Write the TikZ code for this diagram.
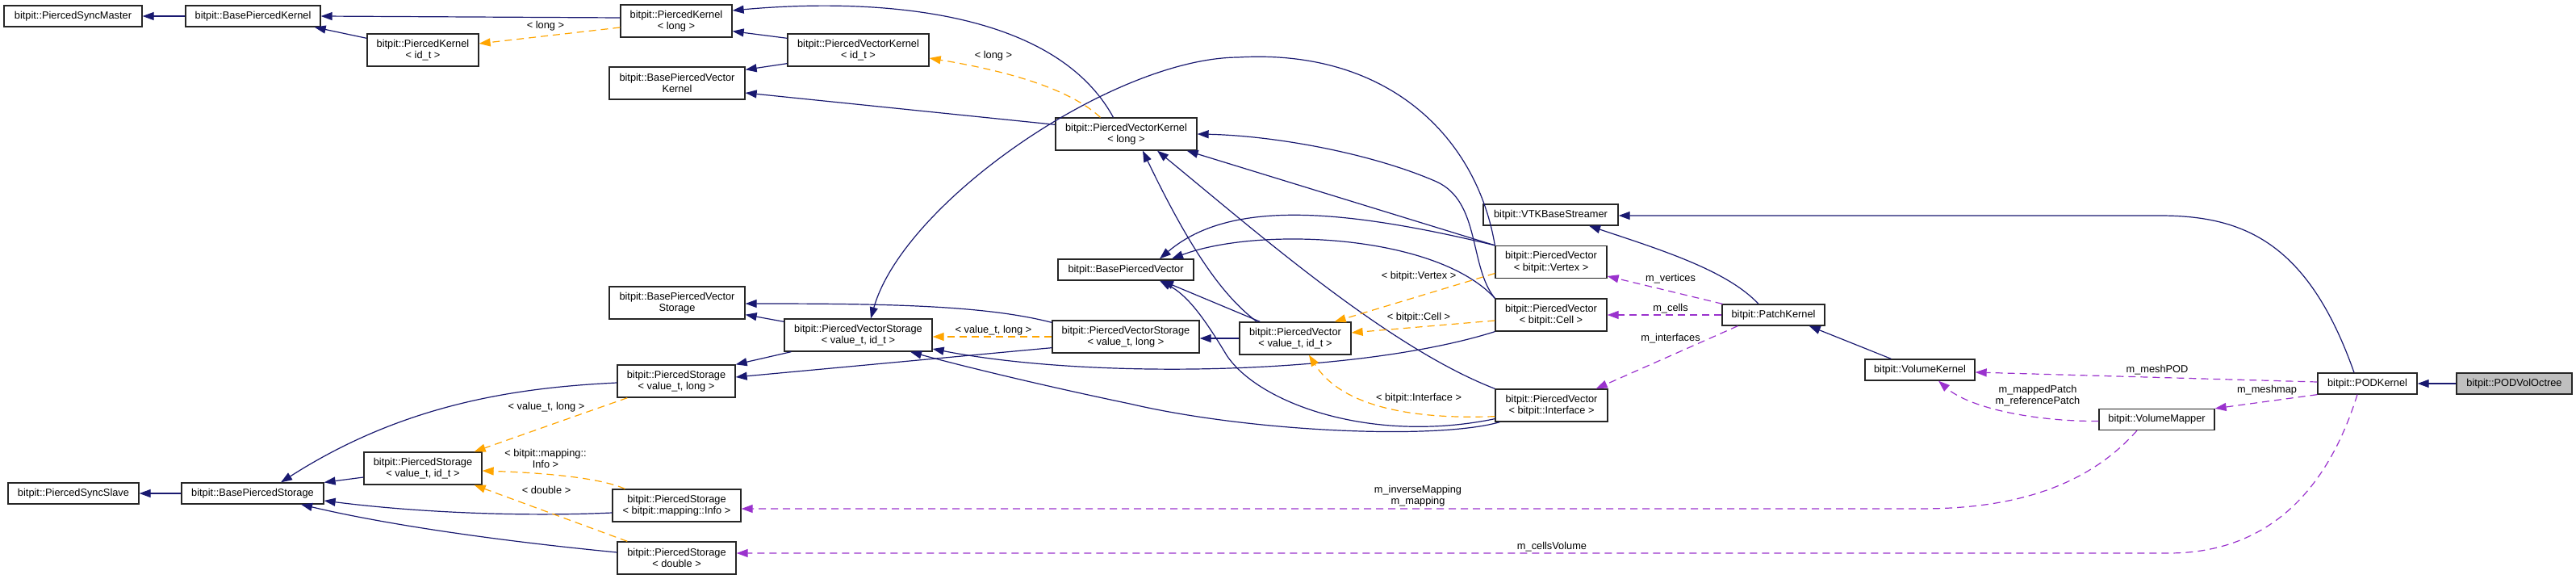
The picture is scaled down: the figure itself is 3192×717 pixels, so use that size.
\documentclass[tikz,border=0pt]{standalone}
\usepackage{fontspec}
\setmainfont{Liberation Sans}
\usetikzlibrary{arrows.meta,calc}
\definecolor{inhblue}{HTML}{191970}
\definecolor{tmplorange}{HTML}{FFA500}
\definecolor{usepurple}{HTML}{9A32CD}
\begin{document}
\begin{tikzpicture}[x=1pt,y=-1pt,
  font=\fontsize{12.8}{14.5}\selectfont,
  cls/.style={draw=black!85, line width=1.3pt, fill=white, inner sep=0pt, align=center},
  boxa/.style={cls, minimum height=26pt},
  boxb/.style={cls, minimum height=40pt},
  tipa/.style={-{Triangle[length=14pt,width=10pt]}},
  inh/.style={draw=inhblue, line width=1.2pt, tipa},
  tmpl/.style={draw=tmplorange, line width=1.2pt, dash pattern=on 9pt off 6pt, tipa},
  usage/.style={draw=usepurple, line width=1.2pt, dash pattern=on 9pt off 6pt, tipa},
  lbl/.style={inner sep=0pt, align=center}]
\useasboundingbox (0,0) rectangle (3192,717);

% nodes
\node[boxa, minimum width=171pt] (sm) at (90.5,20) {bitpit::PiercedSyncMaster};
\node[boxa, minimum width=167pt] (bpk) at (313.5,20) {bitpit::BasePiercedKernel};
\node[boxb, minimum width=138pt] (pkid) at (524,62) {bitpit::PiercedKernel\\< id\_t >};
\node[boxb, minimum width=138pt] (pklong) at (838,26) {bitpit::PiercedKernel\\< long >};
\node[boxb, minimum width=175pt] (pvkid) at (1063.5,62) {bitpit::PiercedVectorKernel\\< id\_t >};
\node[boxb, minimum width=168pt] (bpvk) at (839,103) {bitpit::BasePiercedVector\\Kernel};
\node[boxb, minimum width=175pt] (pvklong) at (1395.5,166) {bitpit::PiercedVectorKernel\\< long >};
\node[boxa, minimum width=167pt] (vtk) at (1921.5,266) {bitpit::VTKBaseStreamer};
\node[boxb, minimum width=138pt] (pvvert) at (1922,324.5) {bitpit::PiercedVector\\< bitpit::Vertex >};
\node[boxb, minimum width=138pt] (pvcell) at (1922,390) {bitpit::PiercedVector\\< bitpit::Cell >};
\node[boxa, minimum width=127pt] (patch) at (2197.5,390) {bitpit::PatchKernel};
\node[boxa, minimum width=168pt] (bpv) at (1395,334) {bitpit::BasePiercedVector};
\node[boxb, minimum width=168pt] (bpvs) at (839,375) {bitpit::BasePiercedVector\\Storage};
\node[boxb, minimum width=183pt] (pvsid) at (1063.5,415) {bitpit::PiercedVectorStorage\\< value\_t, id\_t >};
\node[boxb, minimum width=182pt] (pvslong) at (1395,417) {bitpit::PiercedVectorStorage\\< value\_t, long >};
\node[boxb, minimum width=138pt] (pvid) at (1605,419) {bitpit::PiercedVector\\< value\_t, id\_t >};
\node[boxb, minimum width=146pt] (pslong) at (838,472) {bitpit::PiercedStorage\\< value\_t, long >};
\node[boxb, minimum width=139pt] (pvint) at (1922.5,502) {bitpit::PiercedVector\\< bitpit::Interface >};
\node[boxa, minimum width=136pt] (volk) at (2379,458) {bitpit::VolumeKernel};
\node[boxa, minimum width=123pt] (podk) at (2933.5,475) {bitpit::PODKernel};
\node[boxa, minimum width=143pt, fill={rgb,255:red,191;green,191;blue,191}] (podvo) at (3115.5,475) {bitpit::PODVolOctree};
\node[boxa, minimum width=143pt] (vmap) at (2672.5,519.5) {bitpit::VolumeMapper};
\node[boxa, minimum width=162pt] (slave) at (91,611) {bitpit::PiercedSyncSlave};
\node[boxa, minimum width=176pt] (bps) at (313,611) {bitpit::BasePiercedStorage};
\node[boxb, minimum width=146pt] (psid) at (524,580) {bitpit::PiercedStorage\\< value\_t, id\_t >};
\node[boxb, minimum width=159pt] (psinfo) at (838.5,626) {bitpit::PiercedStorage\\< bitpit::mapping::Info >};
\node[boxb, minimum width=147pt] (psdouble) at (838.5,691) {bitpit::PiercedStorage\\< double >};

% labels
\node[lbl] (l1) at (676,32) {< long >};
\node[lbl] (l2) at (1231,69) {< long >};
\node[lbl] (l3) at (1231,409) {< value\_t, long >};
\node[lbl] (l4) at (677,504) {< value\_t, long >};
\node[lbl] (l5) at (676,568) {< bitpit::mapping::\\Info >};
\node[lbl] (l6) at (677,607) {< double >};
\node[lbl] (l7) at (1758,342) {< bitpit::Vertex >};
\node[lbl] (l8) at (1758,393) {< bitpit::Cell >};
\node[lbl] (l9) at (1758,493) {< bitpit::Interface >};
\node[lbl] (l10) at (2070,345) {m\_vertices};
\node[lbl] (l11) at (2070,382) {m\_cells};
\node[lbl] (l12) at (2070,419) {m\_interfaces};
\node[lbl] (l13) at (2673,458) {m\_meshPOD};
\node[lbl] (l14) at (2809,483) {m\_meshmap};
\node[lbl] (l15) at (2525,490) {m\_mappedPatch\\m\_referencePatch};
\node[lbl] (l16) at (1757,614) {m\_inverseMapping\\m\_mapping};
\node[lbl] (l17) at (1923,677) {m\_cellsVolume};

% inheritance (blue)
\draw[inh] (bpk.west) -- (sm.east);
\draw[inh] ($(pkid.north west)+(0,6)$) -- ($(bpk.south east)+(-8,0)$);
\draw[inh] ($(pklong.west)+(0,-4)$) -- (bpk.east);
\draw[inh] ($(pvkid.north west)+(0,6)$) -- ($(pklong.south east)+(0,-8)$);
\draw[inh] ($(pvkid.south west)+(0,-4)$) -- ($(bpvk.north east)+(0,4)$);
\draw[inh] ($(pvklong.north west)+(0,9)$) -- ($(bpvk.east)+(0,12)$);
\draw[inh] ($(pvklong.north)+(-16,0)$) .. controls (1300,0) and (1050,0) .. ($(pklong.east)+(0,-13)$);
\draw[inh] (pvvert.north west) .. controls (1830,170) and (1720,60) .. (1534,71) .. controls (1380,72) and (1120,250) .. ($(pvsid.north)+(15.5,0)$);
\draw[inh] (pvvert.north west) -- ($(pvklong.south east)+(-13,0)$);
\draw[inh] (pvvert.north west) .. controls (1650,255) and (1520,250) .. ($(bpv.north)+(42,0)$);
\draw[inh] (pvcell.north west) .. controls (1820,330) and (1835,250) .. (1780,225) .. controls (1700,190) and (1580,168) .. (pvklong.east);
\draw[inh] (pvcell.north west) .. controls (1780,290) and (1560,280) .. ($(bpv.north)+(57,0)$);
\draw[inh] (pvcell.south west) .. controls (1680,465) and (1350,470) .. ($(pvsid.east)+(0,17)$);
\draw[inh] (pvint.north west) .. controls (1720,430) and (1560,290) .. ($(pvklong.south)+(38.5,0)$);
\draw[inh] ($(pvint.south west)+(0,-4)$) .. controls (1700,550) and (1560,500) .. (1520,440) .. controls (1490,390) and (1470,365) .. ($(bpv.south)+(42,0)$);
\draw[inh] ($(pvint.south west)+(6,0)$) .. controls (1780,545) and (1550,535) .. (1400,500) .. controls (1280,475) and (1180,450) .. ($(pvsid.south)+(64.5,0)$);
\draw[inh] (pvid.west) -- (pvid.west -| pvslong.east);
\draw[inh] ($(pvid.north west)+(26,0)$) -- ($(bpv.south)+(45,0)$);
\draw[inh] ($(pvid.north west)+(22,0)$) .. controls (1520,370) and (1480,320) .. ($(pvklong.south)+(20.5,0)$);
\draw[inh] ($(pvslong.north west)+(0,3)$) .. controls (1220,378) and (1100,376) .. ($(bpvs.east)+(0,1)$);
\draw[inh] ($(pvslong.south west)+(0,-7)$) -- ($(pslong.east)+(0,-5)$);
\draw[inh] ($(pvsid.north west)+(0,4)$) -- ($(bpvs.south east)+(0,-6)$);
\draw[inh] ($(pvsid.south west)+(9,0)$) -- (pslong.north east);
\draw[inh] ($(pslong.west)+(0,2)$) .. controls (640,480) and (500,500) .. ($(bps.north)+(35,0)$);
\draw[inh] ($(psid.west)+(0,11)$) -- (bps.north east);
\draw[inh] ($(psinfo.west)+(0,9)$) .. controls (650,640) and (520,635) .. ($(bps.east)+(0,9)$);
\draw[inh] ($(psdouble.west)+(0,-7)$) .. controls (620,670) and (480,650) .. ($(bps.south)+(60,0)$);
\draw[inh] (bps.west) -- (slave.east);
\draw[inh] ($(patch.north)+(-18.5,0)$) .. controls (2140,335) and (2060,310) .. ($(vtk.south)+(47.5,0)$);
\draw[inh] ($(podk.north)+(-16.5,0)$) .. controls (2860,300) and (2780,267) .. (2676,267) -- ($(vtk.east)+(0,1)$);
\draw[inh] ($(volk.north west)+(33,0)$) -- ($(patch.south east)+(-20,0)$);
\draw[inh] (podvo.west) -- (podk.east);

% template instances (orange)
\draw[tmpl] ($(pklong.west)+(0,8)$) -- ($(pkid.east)+(0,-8)$);
\draw[tmpl] ($(pvklong.north)+(-32,0)$) .. controls (1320,105) and (1230,85) .. ($(pvkid.east)+(0,10)$);
\draw[tmpl] ($(pvvert.west)+(0,14)$) -- ($(pvid.north east)+(-21,0)$);
\draw[tmpl] ($(pvcell.west)+(0,7)$) -- ($(pvid.east)+(0,-7)$);
\draw[tmpl] ($(pvint.south west)+(0,-7)$) .. controls (1740,520) and (1660,500) .. ($(pvid.south)+(17,0)$);
\draw[tmpl] (pvslong.west) -- (pvslong.west -| pvsid.east);
\draw[tmpl] ($(pslong.south west)+(13,0)$) -- ($(psid.north east)+(-10,0)$);
\draw[tmpl] ($(psinfo.north west)+(16,0)$) .. controls (740,590) and (660,585) .. ($(psid.east)+(0,3)$);
\draw[tmpl] ($(psdouble.north west)+(13,0)$) -- ($(psid.south east)+(-10,0)$);

% usage (purple)
\draw[usage] ($(patch.north west)+(1,0)$) -- ($(pvvert.east)+(0,17.5)$);
\draw[usage] (patch.west) -- (pvcell.east);
\draw[usage] ($(patch.south west)+(20,0)$) -- ($(pvint.north east)+(-15,0)$);
\draw[usage] ($(podk.west)+(0,-2)$) -- ($(volk.east)+(0,3)$);
\draw[usage] (podk.south west) -- (vmap.north east);
\draw[usage] ($(vmap.west)+(0,2)$) .. controls (2520,522) and (2440,505) .. ($(volk.south)+(23,0)$);
\draw[usage] ($(vmap.south)+(-24.5,0)$) .. controls (2580,610) and (2480,630) .. (2380,630) -- ($(psinfo.east)+(0,4)$);
\draw[usage] ($(podk.south)+(-12.5,0)$) .. controls (2880,620) and (2800,685) .. (2687,685) -- ($(psdouble.east)+(0,-6)$);
\end{tikzpicture}
\end{document}
